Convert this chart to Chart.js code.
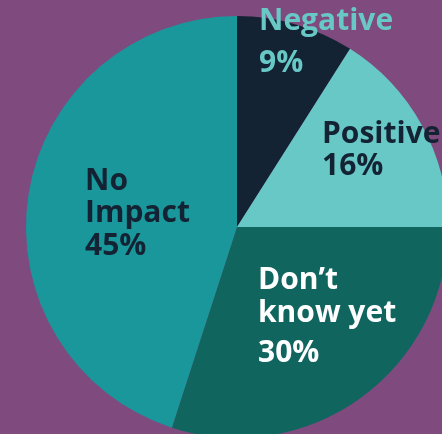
<!DOCTYPE html>
<html>
<head>
<meta charset="utf-8">
<script src="https://cdn.jsdelivr.net/npm/chart.js@4"></script>
<style>
    html, body { margin: 0; padding: 0; width: 442px; height: 434px; overflow: hidden; background: #7f4a7d; }
    #wrap { position: absolute; left: 0; top: 0; width: 474px; height: 454px; }
</style>
</head>
<body>
<div id="wrap"><canvas id="pieChart"></canvas></div>
<script>
const categories = ["Negative", "Positive", "Don’t know yet", "No Impact"];
const shares = [9, 16, 30, 45];
const sliceColors = ["#142334", "#68c8c6", "#10665e", "#19979b"];

// label text lines, colour and offset from the pie centre (px)
const labelLines = [["Negative", "9%"], ["Positive", "16%"], ["Don’t", "know yet", "30%"], ["No", "Impact", "45%"]];
const labelColors = ["#68c8c6", "#142334", "#ffffff", "#142334"];
const labelSpots = [
    { x: 22, y: [-197, -155] },
    { x: 85, y: [-84, -52] },
    { x: 21, y: [62, 95, 135] },
    { x: -152, y: [-37, -5, 28] }
];

const sliceLabels = {
    id: "sliceLabels",
    afterDatasetsDraw(chart) {
        const ctx = chart.ctx;
        const arc = chart.getDatasetMeta(0).data[0];
        ctx.save();
        ctx.font = "bold 30px 'Open Sans'";
        ctx.textBaseline = "alphabetic";
        ctx.textAlign = "left";
        labelLines.forEach((lines, i) => {
            ctx.fillStyle = labelColors[i];
            lines.forEach((line, j) => {
                ctx.fillText(line, arc.x + labelSpots[i].x, arc.y + labelSpots[i].y[j]);
            });
        });
        ctx.restore();
    }
};

new Chart(document.getElementById("pieChart"), {
    type: "pie",
    data: {
        labels: categories,
        datasets: [{
            data: shares,
            backgroundColor: sliceColors,
            borderWidth: 0
        }]
    },
    options: {
        responsive: true,
        maintainAspectRatio: false,
        animation: false,
        layout: { padding: { left: 26, top: 16, right: 26, bottom: 16 } },
        plugins: {
            legend: { display: false },
            tooltip: { enabled: false }
        }
    },
    plugins: [sliceLabels]
});
</script>
</body>
</html>
